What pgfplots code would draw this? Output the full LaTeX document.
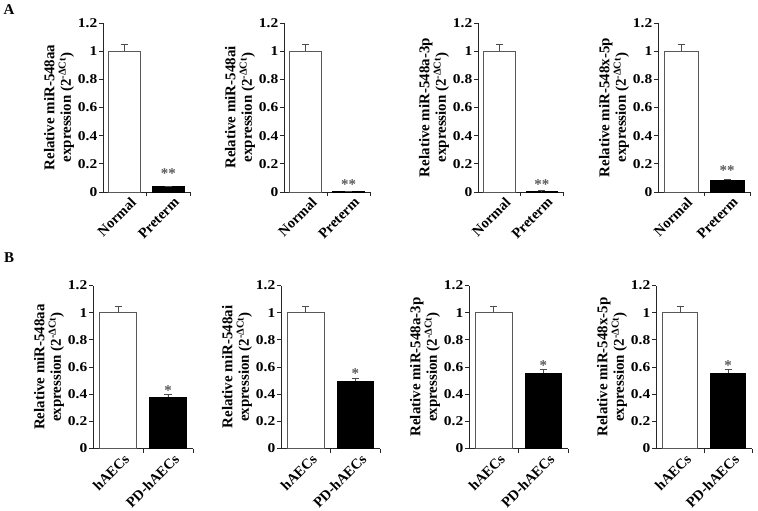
\documentclass[border=0pt]{standalone}
\usepackage{fontspec}
\setmainfont{Liberation Serif}
\newfontfamily\tickfont[FakeStretch=1.15]{Liberation Serif}
\usepackage{pgfplots}
\pgfplotsset{compat=1.18}
\tikzset{sigstar/.style={font=\bfseries\fontsize{15}{15}\selectfont, text=black!65}}
\pgfplotsset{
  mypanel/.style={
    scale only axis,
    anchor=south west,
    clip=false,
    ymin=0, ymax=1.2, xmin=-0.5, xmax=1.5,
    axis x line*=bottom, axis y line*=left,
    axis line style={black!85, line width=0.8pt},
    ytick={0,0.2,0.4,0.6,0.8,1,1.2},
    yticklabels={0,0.2,0.4,0.6,0.8,1,1.2},
    xtick={0.5,1.5}, xticklabels={},
    tick align=outside, major tick length=4bp,
    tick style={black!85, line width=0.8pt},
    /pgf/number format/assume math mode=true,
    y tick label style={font=\tickfont\bfseries\fontsize{13.5}{13.5}\selectfont, inner sep=1.5bp},
    extra x ticks={0,1},
    extra x tick style={major tick length=0pt,
      tick label style={font=\bfseries\fontsize{14.5}{14.5}\selectfont, xshift=5bp, yshift=-3bp, rotate=45, anchor=north east, inner sep=1bp}},
    every axis y label/.style={at={(axis description cs:0,0.5)}, xshift=-44bp, rotate=90, anchor=center, align=center, font=\bfseries\fontsize{15}{16.5}\selectfont},
  },
  rowA/.style={mypanel, height=169bp, extra x tick labels={Normal,Preterm}},
  rowB/.style={mypanel, height=163bp, extra x tick labels={hAECs,PD-hAECs}},
  whitebar/.style={ybar, bar width=0.74, bar shift=0pt, fill=white, draw=black!65, line width=0.7pt,
    error bars/.cd, y dir=plus, y explicit,
    error bar style={black!70, line width=0.7pt},
    error mark options={rotate=90, mark size=3.5bp, black!70, line width=0.7pt}},
  blackbar/.style={ybar, bar width=0.74, bar shift=0pt, fill=black, draw=black, line width=0.7pt,
    error bars/.cd, y dir=plus, y explicit,
    error bar style={black!70, line width=0.7pt},
    error mark options={rotate=90, mark size=3.5bp, black!70, line width=0.7pt}},
}
\newcommand{\ylab}[1]{Relative miR-#1\\expression (2\textsuperscript{-ΔCt})}
\begin{document}
\begin{tikzpicture}
\path[use as bounding box] (0,0) rectangle (758bp,-511bp);
\node[font=\bfseries\fontsize{15}{15}\selectfont] at (9bp,-10bp) {A};
\node[font=\bfseries\fontsize{15}{15}\selectfont] at (9bp,-258bp) {B};

% Row A
\begin{axis}[rowA, at={(103bp,-192bp)}, width=87bp, ylabel={\ylab{548aa}}]
\addplot[whitebar] coordinates {(0,1) +- (0,0.05)};
\addplot[blackbar] coordinates {(1,0.04) +- (0,0.003)};
\node[sigstar] at (axis cs:1,0.13) {**};
\end{axis}
\begin{axis}[rowA, at={(284bp,-192bp)}, width=86bp, ylabel={\ylab{548ai}}]
\addplot[whitebar] coordinates {(0,1) +- (0,0.05)};
\addplot[blackbar] coordinates {(1,0.005) +- (0,0.001)};
\node[sigstar] at (axis cs:1,0.055) {**};
\end{axis}
\begin{axis}[rowA, at={(478bp,-192bp)}, width=85bp, ylabel={\ylab{548a-3p}}]
\addplot[whitebar] coordinates {(0,1) +- (0,0.05)};
\addplot[blackbar] coordinates {(1,0.008) +- (0,0.001)};
\node[sigstar] at (axis cs:1,0.055) {**};
\end{axis}
\begin{axis}[rowA, at={(658bp,-192bp)}, width=92bp, ylabel={\ylab{548x-5p}}]
\addplot[whitebar] coordinates {(0,1) +- (0,0.05)};
\addplot[blackbar] coordinates {(1,0.085) +- (0,0.004)};
\node[sigstar] at (axis cs:1,0.15) {**};
\end{axis}

% Row B
\begin{axis}[rowB, at={(93bp,-448.5bp)}, width=100bp, ylabel={\ylab{548aa}}]
\addplot[whitebar] coordinates {(0,1) +- (0,0.05)};
\addplot[blackbar] coordinates {(1,0.38) +- (0,0.02)};
\node[sigstar] at (axis cs:1,0.43) {*};
\end{axis}
\begin{axis}[rowB, at={(281bp,-448.5bp)}, width=99bp, ylabel={\ylab{548ai}}]
\addplot[whitebar] coordinates {(0,1) +- (0,0.05)};
\addplot[blackbar] coordinates {(1,0.495) +- (0,0.025)};
\node[sigstar] at (axis cs:1,0.55) {*};
\end{axis}
\begin{axis}[rowB, at={(469bp,-448.5bp)}, width=99bp, ylabel={\ylab{548a-3p}}]
\addplot[whitebar] coordinates {(0,1) +- (0,0.05)};
\addplot[blackbar] coordinates {(1,0.555) +- (0,0.03)};
\node[sigstar] at (axis cs:1,0.61) {*};
\end{axis}
\begin{axis}[rowB, at={(656bp,-448.5bp)}, width=96bp, ylabel={\ylab{548x-5p}}]
\addplot[whitebar] coordinates {(0,1) +- (0,0.05)};
\addplot[blackbar] coordinates {(1,0.555) +- (0,0.03)};
\node[sigstar] at (axis cs:1,0.61) {*};
\end{axis}
\end{tikzpicture}
\end{document}
